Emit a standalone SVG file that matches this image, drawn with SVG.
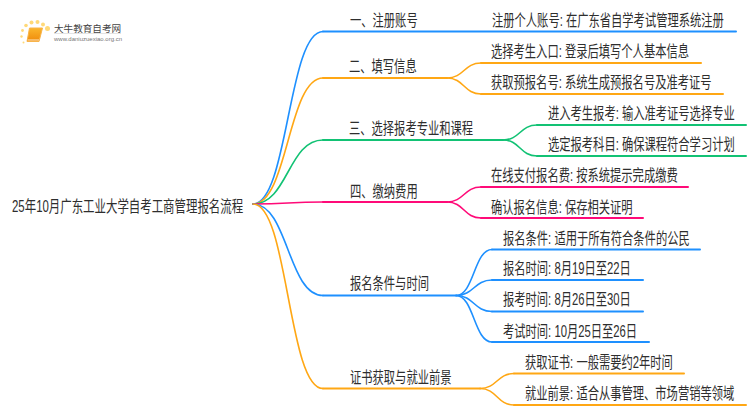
<svg xmlns="http://www.w3.org/2000/svg" width="750" height="410" viewBox="0 0 750 410">
<defs><linearGradient id="bk" x1="0" y1="0" x2="0" y2="1"><stop offset="0" stop-color="#fbb62c"/><stop offset="1" stop-color="#ef8a0c"/></linearGradient></defs>
<style>
text{font-family:"Liberation Sans","Noto Sans CJK SC",sans-serif;font-size:16px;fill:#2e2e2e}
.c{fill:none;stroke-linecap:round}
.t{stroke-width:1.6}
.l{stroke-width:2}
.b{stroke:#1e90ff}.o{stroke:#ffa714}.g{stroke:#12c274}.p{stroke:#ff0a78}
</style>
<g id="logo">
<g fill="#ffd978"><circle cx="47.500" cy="28.500" r="2.500"/><circle cx="43" cy="24.500" r="2"/><circle cx="37.500" cy="22" r="2"/><circle cx="31.500" cy="22.500" r="2"/><circle cx="26" cy="25.500" r="1.800"/><circle cx="22.500" cy="30.500" r="1.400"/><circle cx="21.500" cy="36.500" r="1.200"/><circle cx="23.500" cy="42.500" r="1"/></g>
<path d="M29.500 28H42.500L39 41.500H27Z" fill="url(#bk)" stroke="#f8b44a" stroke-width="1" stroke-linejoin="round"/>
<path d="M28 40H39" stroke="#fde8c4" stroke-width="1"/>
<text x="54" y="31.500" style="font-size:9.600px;fill:#444">大牛教育自考网</text>
<path d="M54 33.500H121" stroke="#ddd" stroke-width="0.800"/>
<text x="54" y="41" style="font-size:6px;fill:#777">www.daniuzuexiao.org.cn</text>
</g>
<g id="connectors">
<path class="c t b" d="M253 204C288 204 288 31.500 323 31.500"/><path class="c l b" d="M323 31.500H736"/>
<path class="c t o" d="M253 204C288 204 288 78 323 78"/><path class="c l o" d="M323 78H447"/>
<path class="c t o" d="M447 78C464 78 464 63 481 63"/><path class="c l o" d="M481 63H701"/>
<path class="c t o" d="M447 78C464 78 464 94 481 94"/><path class="c l o" d="M481 94H723"/>
<path class="c t g" d="M253 204C288 204 288 140 323 140"/><path class="c l g" d="M323 140H503"/>
<path class="c t g" d="M503 140C520 140 520 125 537 125"/><path class="c l g" d="M537 125H746"/>
<path class="c t g" d="M503 140C520 140 520 156 537 156"/><path class="c l g" d="M537 156H746"/>
<path class="c t p" d="M253 204C288 204 288 202 323 202"/><path class="c l p" d="M323 202H447"/>
<path class="c t p" d="M447 202C464 202 464 187 481 187"/><path class="c l p" d="M481 187H688"/>
<path class="c t p" d="M447 202C464 202 464 218 481 218"/><path class="c l p" d="M481 218H643"/>
<path class="c t b" d="M253 204C288 204 288 295.500 323 295.500"/><path class="c l b" d="M323 295.500H456"/>
<path class="c t b" d="M456 295.500C474 295.500 474 249.500 492 249.500"/><path class="c l b" d="M492 249.500H700"/>
<path class="c t b" d="M456 295.500C474 295.500 474 280 492 280"/><path class="c l b" d="M492 280H643"/>
<path class="c t b" d="M456 295.500C474 295.500 474 311.500 492 311.500"/><path class="c l b" d="M492 311.500H643"/>
<path class="c t b" d="M456 295.500C474 295.500 474 342 492 342"/><path class="c l b" d="M492 342H649"/>
<path class="c t o" d="M253 204C288 204 288 388.500 323 388.500"/><path class="c l o" d="M323 388.500H480"/>
<path class="c t o" d="M480 388.500C497 388.500 497 373.500 514 373.500"/><path class="c l o" d="M514 373.500H684"/>
<path class="c t o" d="M480 388.500C497 388.500 497 405 514 405"/><path class="c l o" d="M514 405H746"/>
</g>
<g id="root"><text transform="translate(12 212) scale(.715 1)">25年10月广东工业大学自考工商管理报名流程</text></g>
<g id="n1"><text transform="translate(350 26) scale(.706 1)">一、注册账号</text></g>
<g id="n1a"><text transform="translate(492 26) scale(.706 1)">注册个人账号: 在广东省自学考试管理系统注册</text></g>
<g id="n2"><text transform="translate(349 72) scale(.706 1)">二、填写信息</text></g>
<g id="n2a"><text transform="translate(491 57) scale(.706 1)">选择考生入口: 登录后填写个人基本信息</text></g>
<g id="n2b"><text transform="translate(491 88) scale(.706 1)">获取预报名号: 系统生成预报名号及准考证号</text></g>
<g id="n3"><text transform="translate(349 134) scale(.706 1)">三、选择报考专业和课程</text></g>
<g id="n3a"><text transform="translate(548 119) scale(.706 1)">进入考生报考: 输入准考证号选择专业</text></g>
<g id="n3b"><text transform="translate(548 150) scale(.706 1)">选定报考科目: 确保课程符合学习计划</text></g>
<g id="n4"><text transform="translate(350 197) scale(.706 1)">四、缴纳费用</text></g>
<g id="n4a"><text transform="translate(491 181) scale(.706 1)">在线支付报名费: 按系统提示完成缴费</text></g>
<g id="n4b"><text transform="translate(491 213) scale(.706 1)">确认报名信息: 保存相关证明</text></g>
<g id="n5"><text transform="translate(350 289) scale(.706 1)">报名条件与时间</text></g>
<g id="n5a"><text transform="translate(503 244) scale(.706 1)">报名条件: 适用于所有符合条件的公民</text></g>
<g id="n5b"><text transform="translate(503 274) scale(.706 1)">报名时间: 8月19日至22日</text></g>
<g id="n5c"><text transform="translate(503 305) scale(.706 1)">报考时间: 8月26日至30日</text></g>
<g id="n5d"><text transform="translate(503 337) scale(.706 1)">考试时间: 10月25日至26日</text></g>
<g id="n6"><text transform="translate(350 383) scale(.706 1)">证书获取与就业前景</text></g>
<g id="n6a"><text transform="translate(525 368) scale(.706 1)">获取证书: 一般需要约2年时间</text></g>
<g id="n6b"><text transform="translate(525 399) scale(.706 1)">就业前景: 适合从事管理、市场营销等领域</text></g>
</svg>
